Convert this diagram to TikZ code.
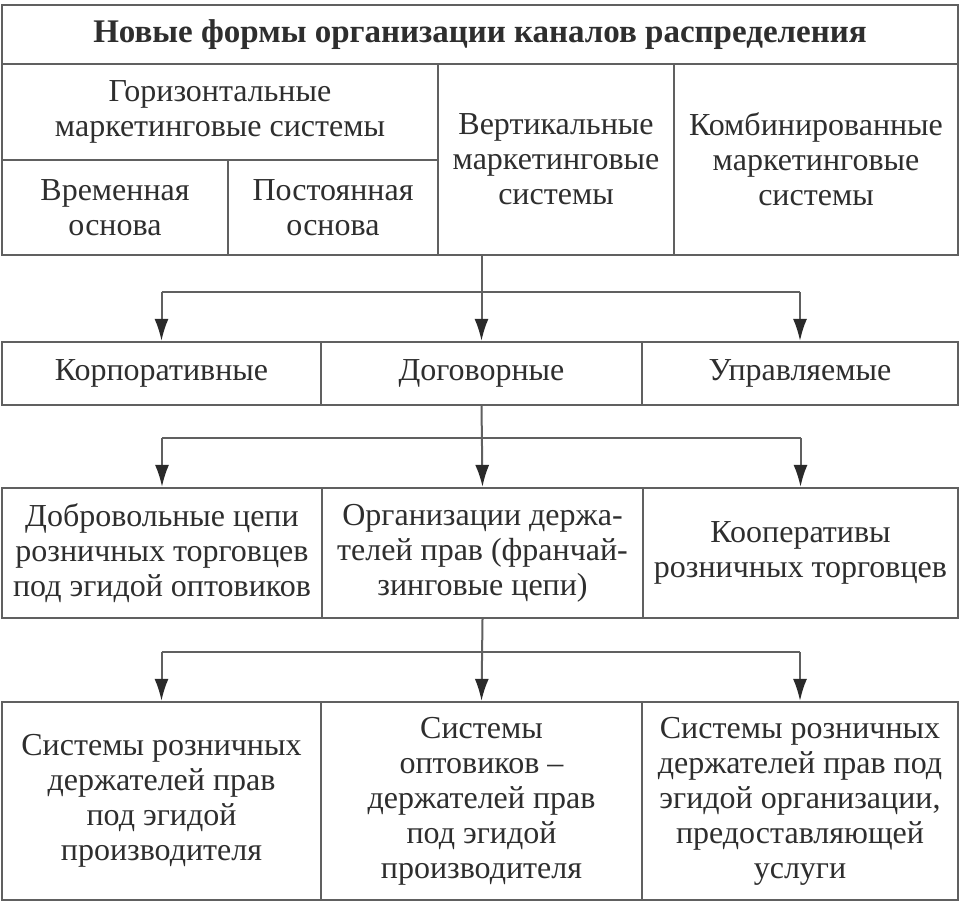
\documentclass[tikz,border=0pt]{standalone}
\usepackage{fontspec}
\setmainfont{Liberation Serif}
\usetikzlibrary{arrows.meta}
\definecolor{linec}{HTML}{606060}
\definecolor{textc}{HTML}{2E2E2E}
\definecolor{arrc}{HTML}{2A2A2A}
\tikzset{
  cell/.style={draw=linec, line width=2.2pt, inner sep=0pt, align=center, text=textc,
    font=\fontsize{32}{35}\selectfont},
  titlecell/.style={cell, font=\fontsize{33}{35}\selectfont\bfseries},
  conn/.style={draw=linec, line width=2pt},
  arr/.style={conn, -{Latex[length=22pt,width=14pt,color=arrc]}}
}
\begin{document}
\begin{tikzpicture}[x=1pt,y=-1pt]
\useasboundingbox (0,0) rectangle (960,902);
\fill[white] (0,0) rectangle (960,902);
% top block
\node[titlecell, minimum width=956pt, minimum height=59pt] (title) at (480,34.5) {Новые формы организации каналов распределения};
\node[cell, minimum width=436pt, minimum height=96pt] (hor) at (220,112) {Горизонтальные\\маркетинговые системы};
\node[cell, minimum width=226pt, minimum height=95pt] (vrem) at (115,207.5) {Временная\\основа};
\node[cell, minimum width=210pt, minimum height=95pt] (post) at (333,207.5) {Постоянная\\основа};
\node[cell, minimum width=236pt, minimum height=191pt] (vert) at (556,159.5) {Вертикальные\\маркетинговые\\системы};
\node[cell, minimum width=284pt, minimum height=191pt] (comb) at (816,159.5) {Комбинированные\\маркетинговые\\системы};
% row 3
\node[cell, minimum width=319pt, minimum height=63pt] (korp) at (161.5,373.5) {Корпоративные};
\node[cell, minimum width=321pt, minimum height=63pt] (dog) at (481.5,373.5) {Договорные};
\node[cell, minimum width=316pt, minimum height=63pt] (upr) at (800,373.5) {Управляемые};
% row 4
\node[cell, minimum width=320pt, minimum height=130pt] (dobr) at (162,553) {Добровольные цепи\\розничных торговцев\\под эгидой оптовиков};
\node[cell, minimum width=321pt, minimum height=130pt] (org) at (482.5,553) {Организации держа-\\телей прав (франчай-\\зинговые цепи)};
\node[cell, minimum width=315pt, minimum height=130pt] (koop) at (800.5,553) {Кооперативы\\розничных торговцев};
% row 5
\node[cell, minimum width=319pt, minimum height=198pt] (sr) at (161.5,801) {Системы розничных\\держателей прав\\под эгидой\\производителя};
\node[cell, minimum width=321pt, minimum height=198pt] (so) at (481.5,801) {Системы\\оптовиков --\\держателей прав\\под эгидой\\производителя};
\node[cell, minimum width=316pt, minimum height=198pt] (su) at (800,801) {Системы розничных\\держателей прав под\\эгидой организации,\\предоставляющей\\услуги};
% connectors level 1
\coordinate (b1) at (0,292);
\draw[arr] (dog.north |- vert.south) -- (dog.north);
\draw[conn] (korp.north |- b1) -- (upr.north |- b1);
\draw[arr] (korp.north |- b1) -- (korp.north);
\draw[arr] (upr.north |- b1) -- (upr.north);
% level 2
\coordinate (b2) at (0,438);
\draw[arr] (dog.south) -- (org.north);
\draw[conn] (dobr.north |- b2) -- (koop.north |- b2);
\draw[arr] (dobr.north |- b2) -- (dobr.north);
\draw[arr] (koop.north |- b2) -- (koop.north);
% level 3
\coordinate (b3) at (0,652);
\draw[arr] (org.south) -- (so.north);
\draw[conn] (sr.north |- b3) -- (su.north |- b3);
\draw[arr] (sr.north |- b3) -- (sr.north);
\draw[arr] (su.north |- b3) -- (su.north);
\end{tikzpicture}
\end{document}
